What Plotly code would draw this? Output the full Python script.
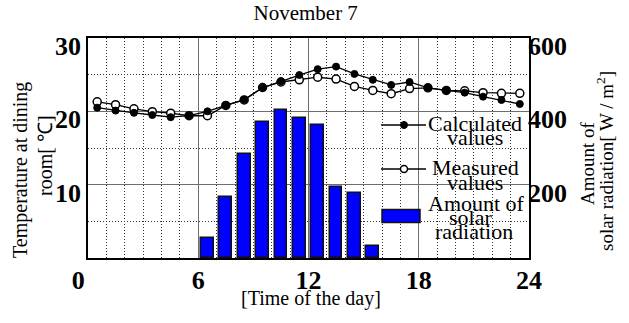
import plotly.graph_objects as go

hours = [0.5, 1.5, 2.5, 3.5, 4.5, 5.5, 6.5, 7.5, 8.5, 9.5, 10.5, 11.5,
         12.5, 13.5, 14.5, 15.5, 16.5, 17.5, 18.5, 19.5, 20.5, 21.5, 22.5, 23.5]
calculated = [20.5, 20.1, 19.8, 19.5, 19.2, 19.4, 20.0, 20.8, 21.6, 23.2, 24.1, 24.95,
              25.75, 26.1, 25.1, 24.3, 23.6, 24.0, 23.2, 22.85, 22.55, 22.0, 21.55, 21.0]
measured = [21.3, 20.9, 20.35, 19.95, 19.75, 19.4, 19.4, 20.8, 21.55, 23.25, 24.0, 24.3,
            24.65, 24.4, 23.4, 22.85, 22.4, 23.1, 23.2, 22.85, 22.8, 22.55, 22.45, 22.45]
sun_hours = [6.5, 7.5, 8.5, 9.5, 10.5, 11.5, 12.5, 13.5, 14.5, 15.5]
solar = [55, 166, 284, 370, 403, 382, 362, 194, 178, 32]

x_ticks = [0, 6, 12, 18, 24]
x_tick_labels = ["0\u00a0\u00a0\u00a0", "6", "12", "18", "24"]
t_ticks = [10, 20, 30]
s_ticks = [200, 400, 600]

SERIF = "Liberation Serif, Times New Roman, serif"

fig = go.Figure()
fig.add_trace(go.Bar(x=sun_hours, y=solar, yaxis="y2", width=0.7,
                     marker=dict(color="#0000ff", line=dict(color="#111111", width=1.5)),
                     showlegend=False, name="Amount of solar radiation"))
fig.add_trace(go.Scatter(x=hours, y=measured, mode="lines+markers",
                         line=dict(color="black", width=1.3),
                         marker=dict(symbol="circle", size=8, color="white",
                                     line=dict(color="black", width=1.5)),
                         showlegend=False, name="Measured values"))
fig.add_trace(go.Scatter(x=hours, y=calculated, mode="lines+markers",
                         line=dict(color="black", width=1.3),
                         marker=dict(symbol="circle", size=7, color="black",
                                     line=dict(color="black", width=1)),
                         showlegend=False, name="Calculated values"))

# plot area geometry (px) for legend key / title placement
L, R, T, B = 88, 529, 38, 258
W, H = R - L, B - T
def px(x):
    return (x - L) / W
def py(y):
    return (B - y) / H

shapes = []
# legend key: calculated
shapes.append(dict(type="line", xref="paper", yref="paper", x0=px(381), x1=px(426), y0=py(125), y1=py(125),
                   line=dict(color="black", width=1.5)))
shapes.append(dict(type="circle", xref="paper", yref="paper", xsizemode="pixel", ysizemode="pixel",
                   xanchor=px(404), yanchor=py(125), x0=-3.5, x1=3.5, y0=-3.5, y1=3.5,
                   fillcolor="black", line=dict(color="black", width=1)))
# legend key: measured
shapes.append(dict(type="line", xref="paper", yref="paper", x0=px(381), x1=px(426), y0=py(169), y1=py(169),
                   line=dict(color="black", width=1.5)))
shapes.append(dict(type="circle", xref="paper", yref="paper", xsizemode="pixel", ysizemode="pixel",
                   xanchor=px(404), yanchor=py(169), x0=-3.5, x1=3.5, y0=-3.5, y1=3.5,
                   fillcolor="white", line=dict(color="black", width=1.5)))
# legend key: solar
shapes.append(dict(type="rect", xref="paper", yref="paper", x0=px(382), x1=px(420), y0=py(222.5), y1=py(209.5),
                   fillcolor="#0000ff", line=dict(color="#111111", width=1.5)))

legend_lines = [("Calculated", 475, 123), ("values", 475, 137),
                ("Measured", 475, 168), ("values", 475, 182),
                ("Amount of", 476, 203), ("solar", 470, 217), ("radiation", 474, 231)]
annotations = [dict(text=t, x=px(x), y=py(y), xref="paper", yref="paper", showarrow=False,
                    xanchor="center", yanchor="middle", font=dict(family=SERIF, size=22, color="black"))
               for t, x, y in legend_lines]

# axis titles (line by line)
axis_title_lines = [
    ("[Time of the day]", 311, 298, 0, 20),
    ("Temperature at dining", 20, 170, -90, 20),
    ("room[ ℃]", 45, 156, -90, 20),
    ("Amount of", 587, 163, -90, 19),
    ("solar radiation[ W / m<sup>2</sup>]", 605, 161, -90, 19),
]
for t, x, y, ang, sz in axis_title_lines:
    annotations.append(dict(text=t, x=px(x), y=py(y), xref="paper", yref="paper", showarrow=False,
                            textangle=ang, xanchor="center", yanchor="middle",
                            font=dict(family=SERIF, size=sz, color="black")))

DOT = "1px,2px"
fig.update_layout(
    width=629, height=323,
    margin=dict(l=L, r=629 - R, t=T, b=323 - B, autoexpand=False),
    paper_bgcolor="white", plot_bgcolor="white",
    font=dict(family=SERIF, color="black"),
    title=dict(text="November 7", x=0.486, xanchor="center", y=0.96, yanchor="middle",
               font=dict(family=SERIF, size=21, color="black")),
    xaxis=dict(range=[0, 24], tickvals=x_ticks, ticktext=x_tick_labels, ticks="", automargin=False,
               tickfont=dict(family=SERIF, size=26, color="black", weight="bold"),
               showgrid=True, gridcolor="#6e6e6e", gridwidth=1.3,
               minor=dict(dtick=1, showgrid=True, gridcolor="#333333", griddash=DOT, gridwidth=1),
               showline=True, linecolor="black", linewidth=1.5, mirror=True,
               zeroline=False, ticklabelstandoff=-2),
    yaxis=dict(range=[0, 30], tickvals=t_ticks, ticks="", automargin=False,
               tickfont=dict(family=SERIF, size=26, color="black", weight="bold"),
               showgrid=True, gridcolor="#6e6e6e", gridwidth=1.3,
               minor=dict(dtick=5, showgrid=True, gridcolor="#333333", griddash=DOT, gridwidth=1),
               showline=True, linecolor="black", linewidth=1.5, mirror=True,
               zeroline=False, ticklabelshift=8, ticklabelstandoff=0),
    yaxis2=dict(range=[0, 600], tickvals=s_ticks, ticks="", overlaying="y", side="right", automargin=False,
                tickfont=dict(family=SERIF, size=26, color="black", weight="bold"),
                showgrid=False, zeroline=False, ticklabelshift=8, ticklabelstandoff=-2),
    shapes=shapes, annotations=annotations,
    bargap=0,
)

fig.write_html("out.html", config={"displayModeBar": False},
               post_script="document.body.style.margin='0px';")
